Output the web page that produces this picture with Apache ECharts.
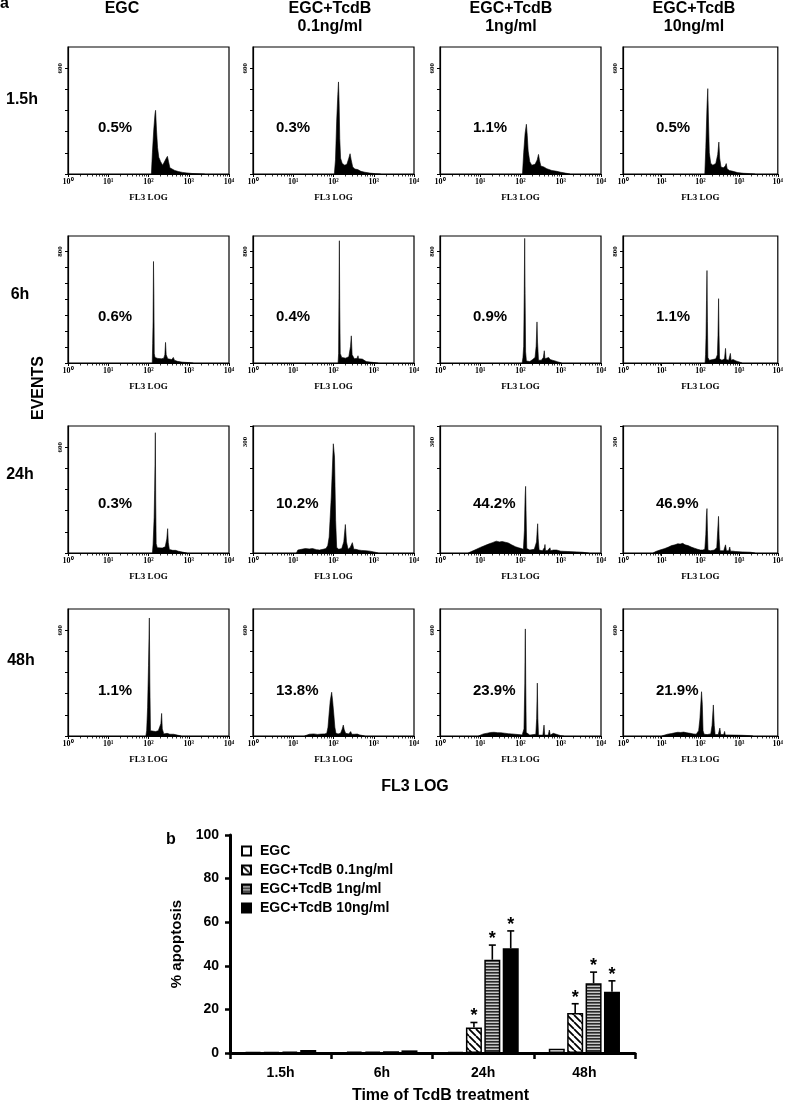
<!DOCTYPE html>
<html><head><meta charset="utf-8">
<script src="https://cdn.jsdelivr.net/npm/echarts@6/dist/echarts.min.js"></script>
<style>html,body{margin:0;padding:0;background:#fff}#c{width:786px;height:1105px}</style>
</head><body><div id="c"></div>
<script>
// ---------------- DATA ----------------
const columnTitles = [['EGC', ''], ['EGC+TcdB', '0.1ng/ml'], ['EGC+TcdB', '1ng/ml'], ['EGC+TcdB', '10ng/ml']];
const rowTitles = ['1.5h', '6h', '24h', '48h'];
const percentLabels = [
  ['0.5%', '0.3%', '1.1%', '0.5%'],
  ['0.6%', '0.4%', '0.9%', '1.1%'],
  ['0.3%', '10.2%', '44.2%', '46.9%'],
  ['1.1%', '13.8%', '23.9%', '21.9%']
];
const yMaxLabels = [
  [600, 600, 600, 600],
  [800, 800, 800, 800],
  [600, 300, 300, 300],
  [600, 600, 600, 600]
];
const decadeLabels = ['10\u2070', '10\u00b9', '10\u00b2', '10\u00b3', '10\u2074'];

// histograms: [FL3 value, events]
const ev_1h5_egc = [[118,0],[125,120],[135,250],[145,340],[150,361],[158,250],[168,150],[180,95],[200,70],[225,50],[245,55],[270,85],[295,100],[315,70],[340,35],[380,25],[450,20],[550,14],[700,9],[900,6],[1200,3],[1800,1],[2500,0]];
const ev_1h5_01 = [[105,0],[112,80],[120,300],[128,450],[133,522],[138,400],[143,200],[150,90],[165,60],[190,50],[215,55],[240,90],[258,115],[275,80],[300,40],[340,28],[400,25],[480,15],[600,10],[800,5],[1100,2],[1500,0]];
const ev_1h5_1 = [[112,0],[120,120],[130,230],[140,282],[147,220],[155,130],[170,70],[190,50],[230,55],[260,80],[280,111],[295,80],[320,45],[380,40],[450,30],[600,20],[800,15],[1000,10],[1300,5],[1700,0]];
const ev_1h5_10 = [[130,0],[138,150],[148,380],[155,484],[162,300],[170,120],[185,60],[210,50],[250,60],[280,110],[300,181],[315,90],[340,40],[390,35],[440,45],[465,59],[490,30],[560,20],[700,15],[900,8],[1300,4],[2000,2],[2600,0]];

const ev_6h_egc = [[124,0],[127,140],[130,300],[133,729],[136,500],[139,69],[145,40],[170,33],[210,30],[240,35],[255,60],[265,148],[275,60],[300,30],[380,25],[414,40],[440,20],[520,12],[700,6],[1000,3],[1300,0]];
const ev_6h_01 = [[130,0],[134,70],[137,500],[140,878],[143,400],[147,69],[160,40],[200,35],[240,45],[265,120],[277,195],[290,60],[330,30],[390,35],[406,52],[420,30],[520,28],[650,10],[900,5],[1300,0]];
const ev_6h_1 = [[110,0],[115,40],[120,120],[124,500],[127,895],[130,500],[134,80],[140,15],[170,10],[200,25],[230,40],[245,120],[257,295],[265,150],[280,20],[330,20],[370,40],[390,88],[405,30],[450,20],[500,40],[523,52],[545,25],[620,20],[720,15],[850,8],[1050,0]];
const ev_6h_10 = [[132,0],[136,60],[140,200],[144,450],[148,664],[152,300],[156,40],[170,20],[210,25],[250,30],[275,60],[285,200],[295,462],[303,200],[312,30],[360,20],[420,30],[446,105],[465,25],[540,20],[595,69],[620,20],[700,25],[760,31],[830,15],[1000,8],[1200,0]];

const ev_24h_egc = [[125,0],[130,50],[138,200],[142,355],[145,500],[148,682],[151,300],[155,53],[165,30],[220,28],[260,35],[285,80],[299,138],[310,60],[330,20],[400,15],[470,15],[550,10],[700,5],[900,0]];
const ev_24h_01 = [[12,0],[13,8],[16,10],[20,12],[25,11],[30,12],[38,9],[45,8],[55,10],[65,12],[72,20],[78,43],[88,151],[99,295],[106,259],[113,88],[120,15],[135,10],[160,12],[180,30],[197,77],[210,30],[230,10],[260,15],[294,28],[320,10],[360,10],[382,14],[420,8],[500,7],[650,6],[800,5],[1000,3],[1300,0]];
const ev_24h_1 = [[5,0],[6,4],[8,10],[10,15],[13,20],[16,24],[20,28],[25,32],[30,30],[35,31],[42,29],[50,27],[60,22],[75,17],[90,14],[105,12],[118,10],[125,60],[130,150],[134,180],[138,100],[143,12],[170,8],[220,10],[250,30],[260,60],[267,79],[275,40],[290,8],[350,6],[395,15],[406,23],[418,6],[470,7],[520,12],[540,14],[560,6],[650,8],[790,8],[1000,5],[1500,4],[2500,3],[3500,2],[5000,0]];
const ev_24h_10 = [[6,0],[7,4],[9,8],[12,12],[15,16],[18,20],[22,22],[26,25],[30,24],[35,26],[40,22],[48,20],[58,16],[70,13],[85,10],[100,8],[115,8],[130,10],[138,50],[143,100],[148,120],[152,60],[157,8],[180,6],[230,8],[265,15],[280,60],[294,99],[305,40],[320,6],[400,6],[446,22],[470,6],[540,6],[573,16],[600,5],[700,5],[762,10],[800,4],[1200,3],[2000,2],[2600,0]];

const ev_48h_egc = [[86,0],[90,30],[95,163],[100,400],[105,669],[108,300],[112,30],[125,28],[150,25],[175,30],[195,35],[203,70],[212,128],[220,40],[240,12],[290,15],[317,25],[340,10],[420,10],[448,11],[520,5],[650,0]];
const ev_48h_01 = [[19,0],[20,8],[25,10],[32,12],[40,9],[50,11],[60,12],[68,15],[73,50],[78,130],[83,200],[90,248],[95,200],[102,120],[108,50],[115,15],[130,12],[150,15],[165,40],[175,62],[185,35],[200,15],[240,12],[267,25],[285,10],[330,10],[390,11],[450,6],[520,3],[600,0]];
const ev_48h_1 = [[9,0],[10,8],[12,12],[15,16],[18,20],[22,21],[27,19],[33,18],[40,16],[50,13],[60,12],[73,10],[90,8],[110,6],[122,40],[128,300],[130,503],[132,607],[135,300],[139,20],[170,5],[240,10],[252,100],[262,300],[270,100],[280,5],[360,5],[384,62],[400,5],[490,5],[520,34],[550,5],[654,15],[700,4],[1000,2],[1200,0]];
const ev_48h_10 = [[10,0],[11,6],[14,10],[18,14],[22,18],[26,21],[31,20],[37,22],[45,18],[55,15],[65,12],[78,10],[90,30],[97,96],[107,251],[112,180],[117,30],[125,10],[150,8],[185,12],[200,60],[216,176],[228,60],[240,8],[290,8],[318,45],[335,8],[400,8],[422,26],[440,6],[550,6],[800,5],[1200,4],[2000,2],[2300,0]];

const histograms = [
  [ev_1h5_egc, ev_1h5_01, ev_1h5_1, ev_1h5_10],
  [ev_6h_egc, ev_6h_01, ev_6h_1, ev_6h_10],
  [ev_24h_egc, ev_24h_01, ev_24h_1, ev_24h_10],
  [ev_48h_egc, ev_48h_01, ev_48h_1, ev_48h_10]
];

// panel b
const times = ['1.5h', '6h', '24h', '48h'];
const groups = ['EGC', 'EGC+TcdB 0.1ng/ml', 'EGC+TcdB 1ng/ml', 'EGC+TcdB 10ng/ml'];
const apoptosis_EGC = [0.5, 0.6, 0.4, 2.0];
const apoptosis_01 = [0.4, 0.6, 11.7, 18.4];
const apoptosis_1 = [0.6, 0.8, 42.8, 32.0];
const apoptosis_10 = [1.4, 1.2, 48.0, 28.1];
const sem_EGC = [0, 0, 0, 0];
const sem_01 = [0, 0, 2.3, 4.2];
const sem_1 = [0, 0, 6.7, 5.1];
const sem_10 = [0, 0, 8.0, 5.0];
const sig_EGC = [0, 0, 0, 0];
const sig_01 = [0, 0, 1, 1];
const sig_1 = [0, 0, 1, 1];
const sig_10 = [0, 0, 1, 1];
const yTicksB = [0, 20, 40, 60, 80, 100];

// ---------------- LAYOUT ----------------
const SANS = '"Liberation Sans", Arial, sans-serif';
const SERIF = '"Liberation Serif", "Times New Roman", serif';
const panelLeft = [68, 253, 440, 623];
const panelTop = [47, 236, 426, 609];
const PW = 161, PH = 127;
const headerX = [122, 330, 511, 694];
const rowLabelPos = [[22, 100], [20, 295], [20, 475], [21, 661]];
const pctDx = [30, 23, 33, 33];
const pctDy = [81, 81, 78, 82];

function yScaleFor(lbl) {
  if (lbl === 600) return { max: 720, ticks: [0, 120, 240, 360, 480, 600] };
  if (lbl === 800) { const t = []; for (let k = 0; k <= 7; k++) t.push(k * 800 / 7); return { max: 912, ticks: t }; }
  const t = []; for (let k = 0; k <= 3; k++) t.push(k * 800 / 7); return { max: 343, ticks: t };
}

const grids = [], xAxes = [], yAxes = [], series = [], graphics = [];
for (let r = 0; r < 4; r++) {
  for (let c = 0; c < 4; c++) {
    const i = r * 4 + c;
    const lbl = yMaxLabels[r][c];
    const ys = yScaleFor(lbl);
    grids.push({ left: panelLeft[c], top: panelTop[r], width: PW, height: PH, show: true, borderColor: '#000', borderWidth: 1.2, backgroundColor: 'transparent' });
    xAxes.push({
      gridIndex: i, type: 'log', logBase: 10, min: 1, max: 10000, splitNumber: 4,
      name: 'FL3 LOG', nameLocation: 'middle', nameGap: 19,
      nameTextStyle: { fontFamily: SERIF, fontWeight: 'bold', fontSize: 9, color: '#000' },
      axisLine: { show: true, lineStyle: { color: '#000', width: 1.2 } },
      axisTick: { show: true, length: 3, lineStyle: { color: '#000', width: 1 } },
      minorTick: { show: true, splitNumber: 9, length: 2.5, lineStyle: { color: '#000', width: 0.8 } },
      axisLabel: { formatter: v => decadeLabels[Math.round(Math.log10(v))], fontFamily: SERIF, fontWeight: 'bold', fontSize: 8, color: '#000', margin: 4, showMinLabel: true, showMaxLabel: true },
      splitLine: { show: false }, minorSplitLine: { show: false }
    });
    yAxes.push({
      gridIndex: i, type: 'value', min: 0, max: ys.max,
      axisLine: { show: true, lineStyle: { color: '#000', width: 1.2 } },
      axisTick: { show: true, customValues: ys.ticks, length: 3, lineStyle: { color: '#000', width: 1 } },
      axisLabel: { customValues: [lbl], rotate: 90, fontFamily: SERIF, fontWeight: 'bold', fontSize: 7, color: '#000', margin: 4 },
      splitLine: { show: false }
    });
    series.push({
      type: 'line', xAxisIndex: i, yAxisIndex: i, data: histograms[r][c], symbol: 'none', silent: true,
      lineStyle: { color: '#000', width: 0.6 }, areaStyle: { color: '#000', opacity: 1 }
    });
    graphics.push({ type: 'text', silent: true, style: { text: percentLabels[r][c], x: panelLeft[c] + pctDx[c], y: panelTop[r] + pctDy[r], font: 'bold 15px ' + SANS, fill: '#000', textAlign: 'left', textVerticalAlign: 'middle' } });
  }
}
for (let c = 0; c < 4; c++) {
  graphics.push({ type: 'text', silent: true, style: { text: columnTitles[c][0], x: headerX[c], y: 9, font: 'bold 16px ' + SANS, fill: '#000', textAlign: 'center', textVerticalAlign: 'middle' } });
  if (columnTitles[c][1]) graphics.push({ type: 'text', silent: true, style: { text: columnTitles[c][1], x: headerX[c], y: 27, font: 'bold 16px ' + SANS, fill: '#000', textAlign: 'center', textVerticalAlign: 'middle' } });
}
for (let r = 0; r < 4; r++) {
  graphics.push({ type: 'text', silent: true, style: { text: rowTitles[r], x: rowLabelPos[r][0], y: rowLabelPos[r][1], font: 'bold 16px ' + SANS, fill: '#000', textAlign: 'center', textVerticalAlign: 'middle' } });
}
graphics.push({ type: 'text', silent: true, x: 39, y: 388, rotation: Math.PI / 2, style: { text: 'EVENTS', x: 0, y: 0, font: 'bold 16px ' + SANS, fill: '#000', textAlign: 'center', textVerticalAlign: 'middle' } });
graphics.push({ type: 'text', silent: true, style: { text: 'FL3 LOG', x: 415, y: 787, font: 'bold 16px ' + SANS, fill: '#000', textAlign: 'center', textVerticalAlign: 'middle' } });
graphics.push({ type: 'text', silent: true, style: { text: 'a', x: 0, y: 4, font: 'bold 16px ' + SANS, fill: '#000', textAlign: 'left', textVerticalAlign: 'middle' } });
graphics.push({ type: 'text', silent: true, style: { text: 'b', x: 166, y: 840, font: 'bold 16px ' + SANS, fill: '#000', textAlign: 'left', textVerticalAlign: 'middle' } });

// ---------------- PANEL B ----------------
function hatchPattern() {
  const s = 7, cv = document.createElement('canvas'); cv.width = s; cv.height = s;
  const g = cv.getContext('2d'); g.fillStyle = '#fff'; g.fillRect(0, 0, s, s);
  g.strokeStyle = '#000'; g.lineWidth = 1.8; g.beginPath();
  for (let k = -1; k <= 1; k++) { g.moveTo(k * s, 0); g.lineTo(k * s + s, s); }
  g.stroke();
  return { image: cv, repeat: 'repeat' };
}
function stripePattern() {
  const cv = document.createElement('canvas'); cv.width = 4; cv.height = 3;
  const g = cv.getContext('2d'); g.fillStyle = '#c8c8c8'; g.fillRect(0, 0, 4, 3);
  g.fillStyle = '#2a2a2a'; g.fillRect(0, 0, 4, 1.6);
  return { image: cv, repeat: 'repeat' };
}
const BI = 16;
const barW = 16, barGapPx = 2.4;
const barStyles = [
  { color: '#fff', borderColor: '#000', borderWidth: 1.5 },
  { color: hatchPattern(), borderColor: '#000', borderWidth: 1.5 },
  { color: stripePattern(), borderColor: '#000', borderWidth: 1.5 },
  { color: '#000', borderColor: '#000', borderWidth: 1.5 }
];
const barValues = [apoptosis_EGC, apoptosis_01, apoptosis_1, apoptosis_10];
const barSem = [sem_EGC, sem_01, sem_1, sem_10];
const barSig = [sig_EGC, sig_01, sig_1, sig_10];

grids.push({ left: 230, top: 835, width: 405, height: 222 });
xAxes.push({
  gridIndex: BI, type: 'category', data: times,
  name: 'Time of TcdB treatment', nameLocation: 'middle', nameGap: 35,
  nameTextStyle: { fontFamily: SANS, fontWeight: 'bold', fontSize: 16, color: '#000', padding: [0, 0, 0, 16] },
  axisLine: { show: true, lineStyle: { color: '#000', width: 3 } },
  axisTick: { show: true, length: 6, alignWithLabel: false, lineStyle: { color: '#000', width: 2.5 } },
  axisLabel: { fontFamily: SANS, fontWeight: 'bold', fontSize: 14, color: '#000', margin: 13 }
});
yAxes.push({
  gridIndex: BI, type: 'value', min: 0, max: 100, interval: 20,
  name: '% apoptosis', nameLocation: 'middle', nameGap: 35,
  nameTextStyle: { fontFamily: SANS, fontWeight: 'bold', fontSize: 15, color: '#000' },
  axisLine: { show: true, lineStyle: { color: '#000', width: 3 } },
  axisTick: { show: true, length: 5, lineStyle: { color: '#000', width: 2.5 } },
  axisLabel: { customValues: yTicksB, fontFamily: SANS, fontWeight: 'bold', fontSize: 14, color: '#000', margin: 11 },
  splitLine: { show: false }
});
for (let g = 0; g < 4; g++) {
  series.push({
    type: 'bar', name: groups[g], xAxisIndex: BI, yAxisIndex: BI, data: barValues[g],
    barWidth: barW, barGap: (barGapPx / barW * 100) + '%', itemStyle: barStyles[g], silent: true
  });
}
const errData = [];
for (let g = 0; g < 4; g++) for (let t = 0; t < 4; t++) errData.push([t, barValues[g][t], barSem[g][t], g, barSig[g][t]]);
series.push({
  type: 'custom', xAxisIndex: BI, yAxisIndex: BI, silent: true, z: 5,
  data: errData,
  renderItem: function (params, api) {
    const t = api.value(0), v = api.value(1), e = api.value(2), g = api.value(3), s = api.value(4);
    const p0 = api.coord([t, v]);
    const p1 = api.coord([t, v + e]);
    const off = (g - 1.5) * (barW + barGapPx);
    const x = p0[0] + off;
    const children = [];
    if (e > 0) {
      children.push({ type: 'line', shape: { x1: x, y1: p0[1], x2: x, y2: p1[1] }, style: { stroke: '#000', lineWidth: 1.6 } });
      children.push({ type: 'line', shape: { x1: x - 3.5, y1: p1[1], x2: x + 3.5, y2: p1[1] }, style: { stroke: '#000', lineWidth: 1.6 } });
    }
    if (s) {
      children.push({ type: 'text', style: { text: '*', x: x, y: p1[1] - 6, font: 'bold 18px ' + SANS, fill: '#000', textAlign: 'center', textVerticalAlign: 'middle' } });
    }
    return { type: 'group', children: children };
  }
});

const option = {
  animation: false,
  backgroundColor: '#fff',
  grid: grids, xAxis: xAxes, yAxis: yAxes, series: series,
  graphic: { elements: graphics },
  legend: {
    data: groups, orient: 'vertical', left: 236, top: 839, itemWidth: 9, itemHeight: 9, itemGap: 5,
    icon: 'rect', selectedMode: false,
    textStyle: { fontFamily: SANS, fontWeight: 'bold', fontSize: 14, color: '#000', padding: [0, 0, 0, 4] }
  }
};
const chart = echarts.init(document.getElementById('c'), null, { renderer: 'canvas', width: 786, height: 1105 });
chart.setOption(option);
</script>
</body></html>
